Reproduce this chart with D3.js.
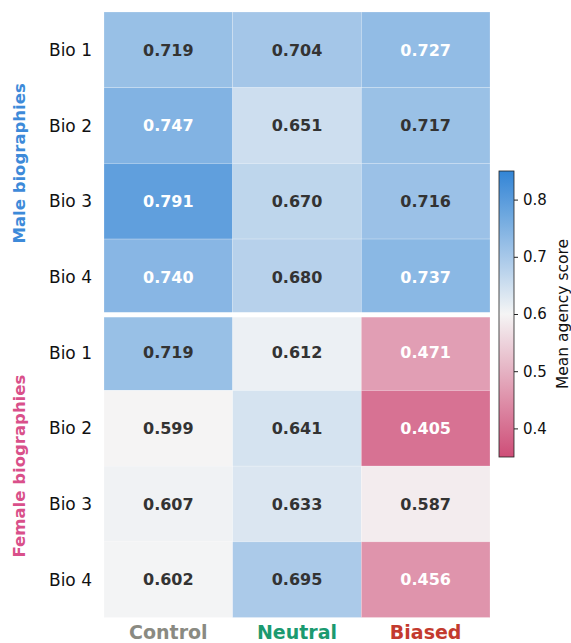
<!DOCTYPE html>
<html>
<head>
<meta charset="utf-8">
<script src="https://cdnjs.cloudflare.com/ajax/libs/d3/7.8.5/d3.min.js"></script>
<style>
  body { margin: 0; background: #fff; }
  svg text { font-family: "DejaVu Sans", sans-serif; }
</style>
</head>
<body>
<div id="chart"></div>
<script>
// data
var bios = ["Bio 1", "Bio 2", "Bio 3", "Bio 4"];
var conditions = ["Control", "Neutral", "Biased"];
var groups = ["Male biographies", "Female biographies"];
var maleScores = [
    [0.719, 0.704, 0.727],
    [0.747, 0.651, 0.717],
    [0.791, 0.670, 0.716],
    [0.740, 0.680, 0.737]
];
var femaleScores = [
    [0.719, 0.612, 0.471],
    [0.599, 0.641, 0.405],
    [0.607, 0.633, 0.587],
    [0.602, 0.695, 0.456]
];
var colorTicks = [0.4, 0.5, 0.6, 0.7, 0.8];

var width = 571, height = 643;
var svg = d3.select("#chart").append("svg")
    .attr("width", width)
    .attr("height", height);

var condColors = {Control: "#8a8a82", Neutral: "#1b9a70", Biased: "#c33a2e"};
var groupColors = ["#3d8ad9", "#d9508a"];

// flatten into cells
var rowKeys = [];
var cells = [];
groups.forEach(function(g, gi) {
    var mat = gi === 0 ? maleScores : femaleScores;
    bios.forEach(function(b, bi) {
        var key = g + "|" + b;
        rowKeys.push(key);
        conditions.forEach(function(c, ci) {
            cells.push({row: key, bio: b, cond: c, value: mat[bi][ci]});
        });
    });
});

var x = d3.scaleBand().domain(conditions).range([104, 490]);
var y = d3.scaleBand().domain(rowKeys).range([12, 617.5]);

var color = d3.scaleLinear()
    .domain([0.35, 0.6, 0.85])
    .range(["#ce4d77", "#f5f5f5", "#3285d6"])
    .interpolate(d3.interpolateRgb)
    .clamp(true);

var g = svg.append("g");

g.selectAll("rect.cell")
    .data(cells)
    .enter().append("rect")
    .attr("class", "cell")
    .attr("x", function(d) { return x(d.cond); })
    .attr("y", function(d) { return y(d.row); })
    .attr("width", x.bandwidth())
    .attr("height", y.bandwidth())
    .attr("fill", function(d) { return color(d.value); })
    .attr("stroke", "rgba(255,255,255,0.35)")
    .attr("stroke-width", 0.6);

g.selectAll("text.val")
    .data(cells)
    .enter().append("text")
    .attr("class", "val")
    .attr("x", function(d) { return x(d.cond) + x.bandwidth() / 2; })
    .attr("y", function(d) { return y(d.row) + y.bandwidth() / 2; })
    .attr("dy", "0.36em")
    .attr("text-anchor", "middle")
    .attr("font-size", 16)
    .attr("font-weight", "bold")
    .attr("fill", function(d) { return Math.abs(d.value - 0.6) > 0.12 ? "#ffffff" : "#333333"; })
    .text(function(d) { return d.value.toFixed(3); });

// separator between the two groups
var sepY = y(rowKeys[4]);
g.append("line")
    .attr("x1", 104).attr("x2", 490)
    .attr("y1", sepY).attr("y2", sepY)
    .attr("stroke", "#fff")
    .attr("stroke-width", 5);

// row labels
g.selectAll("text.bio")
    .data(rowKeys)
    .enter().append("text")
    .attr("class", "bio")
    .attr("x", 92)
    .attr("y", function(d) { return y(d) + y.bandwidth() / 2; })
    .attr("dy", "0.36em")
    .attr("text-anchor", "end")
    .attr("font-size", 17)
    .attr("fill", "#111")
    .text(function(d) { return d.split("|")[1]; });

// group labels
groups.forEach(function(name, gi) {
    var top = y(rowKeys[gi * 4]);
    var bottom = y(rowKeys[gi * 4 + 3]) + y.bandwidth();
    var cy = (top + bottom) / 2;
    g.append("text")
        .attr("transform", "translate(19," + cy + ") rotate(-90)")
        .attr("dy", "0.36em")
        .attr("text-anchor", "middle")
        .attr("font-size", 16.5)
        .attr("font-weight", "bold")
        .attr("fill", groupColors[gi])
        .text(name);
});

// column labels
g.selectAll("text.cond")
    .data(conditions)
    .enter().append("text")
    .attr("class", "cond")
    .attr("x", function(d) { return x(d) + x.bandwidth() / 2; })
    .attr("y", 639)
    .attr("text-anchor", "middle")
    .attr("font-size", 19)
    .attr("font-weight", "bold")
    .attr("fill", function(d) { return condColors[d]; })
    .text(function(d) { return d; });

// colorbar
var cbX = 499, cbW = 15, cbTop = 171, cbBottom = 457;
var cbScale = d3.scaleLinear().domain([0.35, 0.85]).range([cbBottom, cbTop]);

var defs = svg.append("defs");
var grad = defs.append("linearGradient")
    .attr("id", "cbgrad")
    .attr("x1", "0").attr("y1", "1")
    .attr("x2", "0").attr("y2", "0");
d3.range(0, 1.0001, 0.05).forEach(function(t) {
    grad.append("stop")
        .attr("offset", t)
        .attr("stop-color", color(0.35 + t * 0.5));
});

svg.append("rect")
    .attr("x", cbX).attr("y", cbTop)
    .attr("width", cbW).attr("height", cbBottom - cbTop)
    .attr("fill", "url(#cbgrad)")
    .attr("stroke", "#222")
    .attr("stroke-width", 0.8);

var cbAxis = svg.append("g")
    .attr("transform", "translate(" + (cbX + cbW) + ",0)")
    .call(d3.axisRight(cbScale).tickValues(colorTicks).tickFormat(d3.format(".1f")).tickSize(4).tickPadding(5));
cbAxis.select(".domain").remove();
cbAxis.selectAll("text")
    .attr("font-size", 15)
    .attr("fill", "#111")
    .style("font-family", "DejaVu Sans, sans-serif");
cbAxis.selectAll("line").attr("stroke", "#222");

svg.append("text")
    .attr("transform", "translate(562," + ((cbTop + cbBottom) / 2) + ") rotate(-90)")
    .attr("dy", "0.36em")
    .attr("text-anchor", "middle")
    .attr("font-size", 15.5)
    .attr("fill", "#111")
    .text("Mean agency score");
</script>
</body>
</html>
